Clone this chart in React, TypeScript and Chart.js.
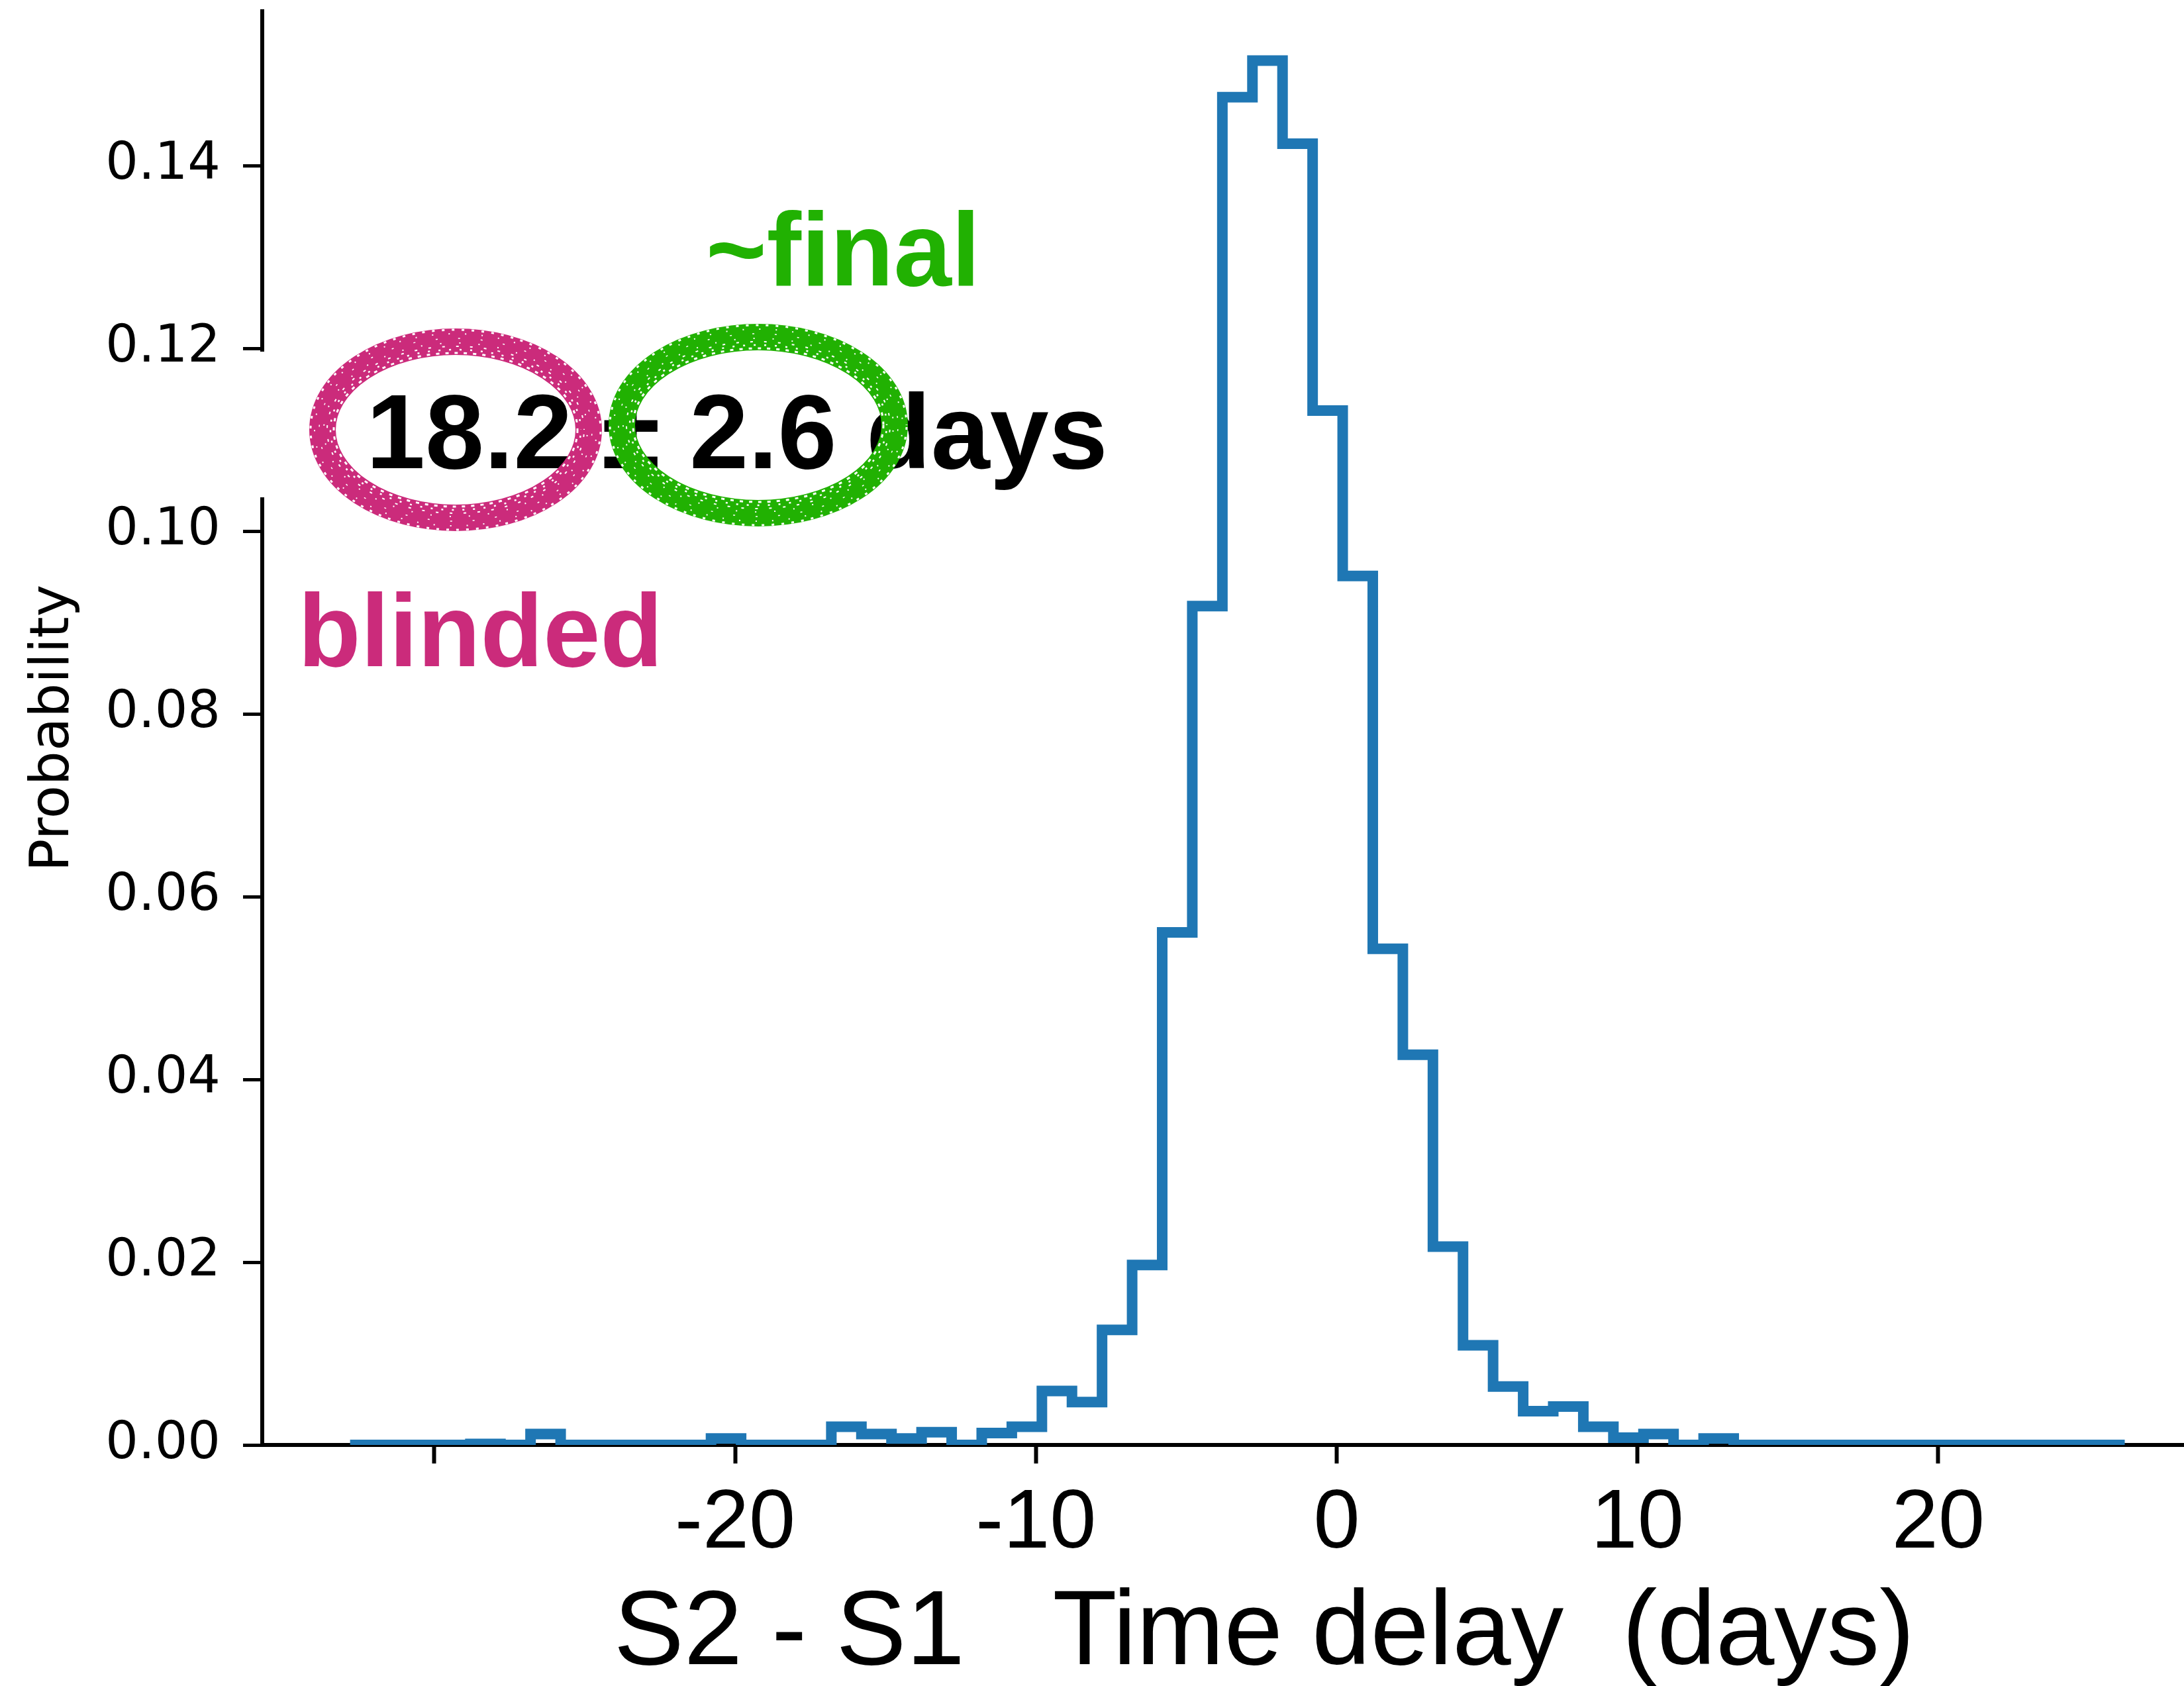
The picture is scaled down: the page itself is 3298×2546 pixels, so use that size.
import React, { useEffect, useRef } from 'react';
import { Chart, registerables } from 'chart.js';

Chart.register(...registerables);

// Histogram bin edges (days) and probability per bin
const binEdges = [
  -32.8, -31.8, -30.8, -29.8, -28.8, -27.8, -26.8, -25.8, -24.8, -23.8,
  -22.8, -21.8, -20.8, -19.8, -18.8, -17.8, -16.8, -15.8, -14.8, -13.8,
  -12.8, -11.8, -10.8, -9.8, -8.8, -7.8, -6.8, -5.8, -4.8, -3.8,
  -2.8, -1.8, -0.8, 0.2, 1.2, 2.2, 3.2, 4.2, 5.2, 6.2,
  7.2, 8.2, 9.2, 10.2, 11.2, 12.2, 13.2, 14.2, 15.2, 16.2,
  17.2, 18.2, 19.2, 20.2, 21.2, 22.2, 23.2, 24.2, 25.2, 26.2,
];

const probability = [
  0, 0, 0, 0, 0.0001, 0, 0.0012, 0, 0, 0,
  0, 0, 0.0007, 0, 0, 0, 0.002, 0.0012, 0.0007, 0.0014,
  0, 0.0013, 0.002, 0.0059, 0.0047, 0.0126, 0.0197, 0.0561, 0.0918, 0.1475,
  0.1515, 0.1424, 0.1132, 0.0951, 0.0543, 0.0427, 0.0217, 0.0109, 0.0064, 0.0037,
  0.0042, 0.002, 0.0008, 0.0012, 0, 0.0007, 0, 0, 0, 0,
  0, 0, 0, 0, 0, 0, 0, 0, 0,
];

const xTickValues = [-30, -20, -10, 0, 10, 20];
const xTickLabels = ['', '-20', '-10', '0', '10', '20'];
const yTickValues = [0, 0.02, 0.04, 0.06, 0.08, 0.1, 0.12, 0.14];
const yTickLabels = ['0.00', '0.02', '0.04', '0.06', '0.08', '0.10', '0.12', '0.14'];

const X_MIN = -35.72;
const X_MAX = 28.17;
const Y_MIN = 0;
const Y_MAX = 0.1569;

const xTitle = 'S2 - S1   Time delay  (days)';
const yTitle = 'Probability';
const finalText = '~final';
const estimateText = '18.2 ± 2.6 days';
const blindedText = 'blinded';

const BLUE = '#1f77b4';
const GREEN = '#21b102';
const MAGENTA = '#cb2b7b';

function chalkRing(ctx: CanvasRenderingContext2D, cx: number, cy: number, rx: number, ry: number, color: string) {
  ctx.save();
  ctx.strokeStyle = color;
  ctx.lineWidth = 40;
  ctx.beginPath();
  ctx.ellipse(cx, cy, rx, ry, 0, 0, Math.PI * 2);
  ctx.stroke();
  ctx.strokeStyle = '#ffffff';
  const offsets = [-17, -12, -7, -2, 5, 12, 18];
  const dashes = [[5, 9], [3, 13], [4, 17], [2, 27], [3, 31], [2, 23], [4, 11]];
  const widths = [3, 2.5, 2, 2, 1.5, 2, 3];
  offsets.forEach((o, i) => {
    ctx.lineWidth = widths[i];
    ctx.setLineDash(dashes[i]);
    ctx.lineDashOffset = i * 7;
    ctx.beginPath();
    ctx.ellipse(cx, cy, rx + o, ry + o, 0, 0, Math.PI * 2);
    ctx.stroke();
  });
  ctx.restore();
}

const annotationPlugin = {
  id: 'annotationOverlay',
  afterDraw(chart: any) {
    const ctx: CanvasRenderingContext2D = chart.ctx;
    ctx.save();
    // white backing of the pasted annotation (cuts the y spine)
    ctx.fillStyle = '#ffffff';
    ctx.fillRect(385, 531, 1300, 220);

    ctx.textAlign = 'left';
    ctx.textBaseline = 'alphabetic';

    ctx.fillStyle = GREEN;
    ctx.font = 'bold 157px "Liberation Sans", Arial, sans-serif';
    ctx.fillText(finalText, 1066, 431);

    ctx.fillStyle = '#000000';
    ctx.font = 'bold 160px "Liberation Sans", Arial, sans-serif';
    ctx.fillText(estimateText, 553, 707);

    ctx.fillStyle = MAGENTA;
    ctx.font = 'bold 155px "Liberation Sans", Arial, sans-serif';
    ctx.fillText(blindedText, 450, 1006);

    chalkRing(ctx, 688, 649, 201, 133, MAGENTA);
    chalkRing(ctx, 1145, 642, 206, 133, GREEN);

    // x axis title
    ctx.fillStyle = '#000000';
    ctx.textAlign = 'center';
    ctx.font = '159px "Liberation Sans", Arial, sans-serif';
    ctx.fillText(xTitle, 1909, 2513);
    ctx.restore();
  },
};

export default function App() {
  const canvasRef = useRef<HTMLCanvasElement | null>(null);

  useEffect(() => {
    document.body.style.margin = '0';
    document.body.style.overflow = 'hidden';
    const canvas = canvasRef.current;
    if (!canvas) return;

    const stepPoints = [
      { x: binEdges[0], y: 0 },
      ...probability.map((p, i) => ({ x: binEdges[i], y: p })),
      { x: binEdges[binEdges.length - 1], y: 0 },
    ];

    const chart = new Chart(canvas, {
      type: 'line',
      data: {
        datasets: [
          {
            data: stepPoints,
            stepped: 'before',
            borderColor: BLUE,
            borderWidth: 16,
            borderJoinStyle: 'miter',
            borderCapStyle: 'butt',
            pointRadius: 0,
            fill: false,
            tension: 0,
            clip: 0,
          } as any,
        ],
      },
      options: {
        animation: false,
        responsive: false,
        maintainAspectRatio: false,
        devicePixelRatio: 1,
        layout: { padding: { top: 17, left: 0, right: 0, bottom: 0 } },
        plugins: {
          legend: { display: false },
          tooltip: { enabled: false },
        },
        scales: {
          x: {
            type: 'linear',
            min: X_MIN,
            max: X_MAX,
            z: 1,
            afterFit: (scale: any) => {
              scale.height = 364;
              scale.paddingLeft = 0;
              scale.paddingRight = 0;
            },
            afterBuildTicks: (scale: any) => {
              scale.ticks = xTickValues.map((v) => ({ value: v }));
            },
            ticks: {
              includeBounds: false,
              autoSkip: false,
              maxRotation: 0,
              minRotation: 0,
              padding: 17,
              color: '#000000',
              font: { family: '"Liberation Sans", Arial, sans-serif', size: 126 },
              callback: (value: any) => {
                const idx = xTickValues.indexOf(Number(value));
                return idx >= 0 ? xTickLabels[idx] : '';
              },
            },
            grid: {
              drawOnChartArea: false,
              drawTicks: true,
              tickLength: 28,
              tickWidth: 6,
              tickColor: '#000000',
            },
            border: { display: true, color: '#000000', width: 6 },
          },
          y: {
            type: 'linear',
            min: Y_MIN,
            max: Y_MAX,
            z: 1,
            afterFit: (scale: any) => {
              scale.width = 396;
              scale.paddingTop = 0;
              scale.paddingBottom = 0;
            },
            afterBuildTicks: (scale: any) => {
              scale.ticks = yTickValues.map((v) => ({ value: v }));
            },
            ticks: {
              includeBounds: false,
              autoSkip: false,
              padding: 34,
              color: '#000000',
              font: { family: '"DejaVu Sans", sans-serif', size: 78 },
              callback: (value: any) => {
                const idx = yTickValues.findIndex((v) => Math.abs(v - Number(value)) < 1e-9);
                return idx >= 0 ? yTickLabels[idx] : '';
              },
            },
            grid: {
              drawOnChartArea: false,
              drawTicks: true,
              tickLength: 29,
              tickWidth: 5,
              tickColor: '#000000',
            },
            border: { display: true, color: '#000000', width: 6 },
            title: {
              display: true,
              text: yTitle,
              color: '#000000',
              font: { family: '"DejaVu Sans", sans-serif', size: 82, lineHeight: 1 },
              padding: { top: 41, bottom: 0 },
            },
          },
        },
      } as any,
      plugins: [annotationPlugin],
    });

    return () => {
      chart.destroy();
    };
  }, []);

  return (
    <div style={{ position: 'absolute', left: 0, top: 0, width: 3298, height: 2546, overflow: 'hidden', background: '#ffffff' }}>
      <canvas ref={canvasRef} width={3298} height={2546} style={{ display: 'block', width: 3298, height: 2546 }} />
    </div>
  );
}
